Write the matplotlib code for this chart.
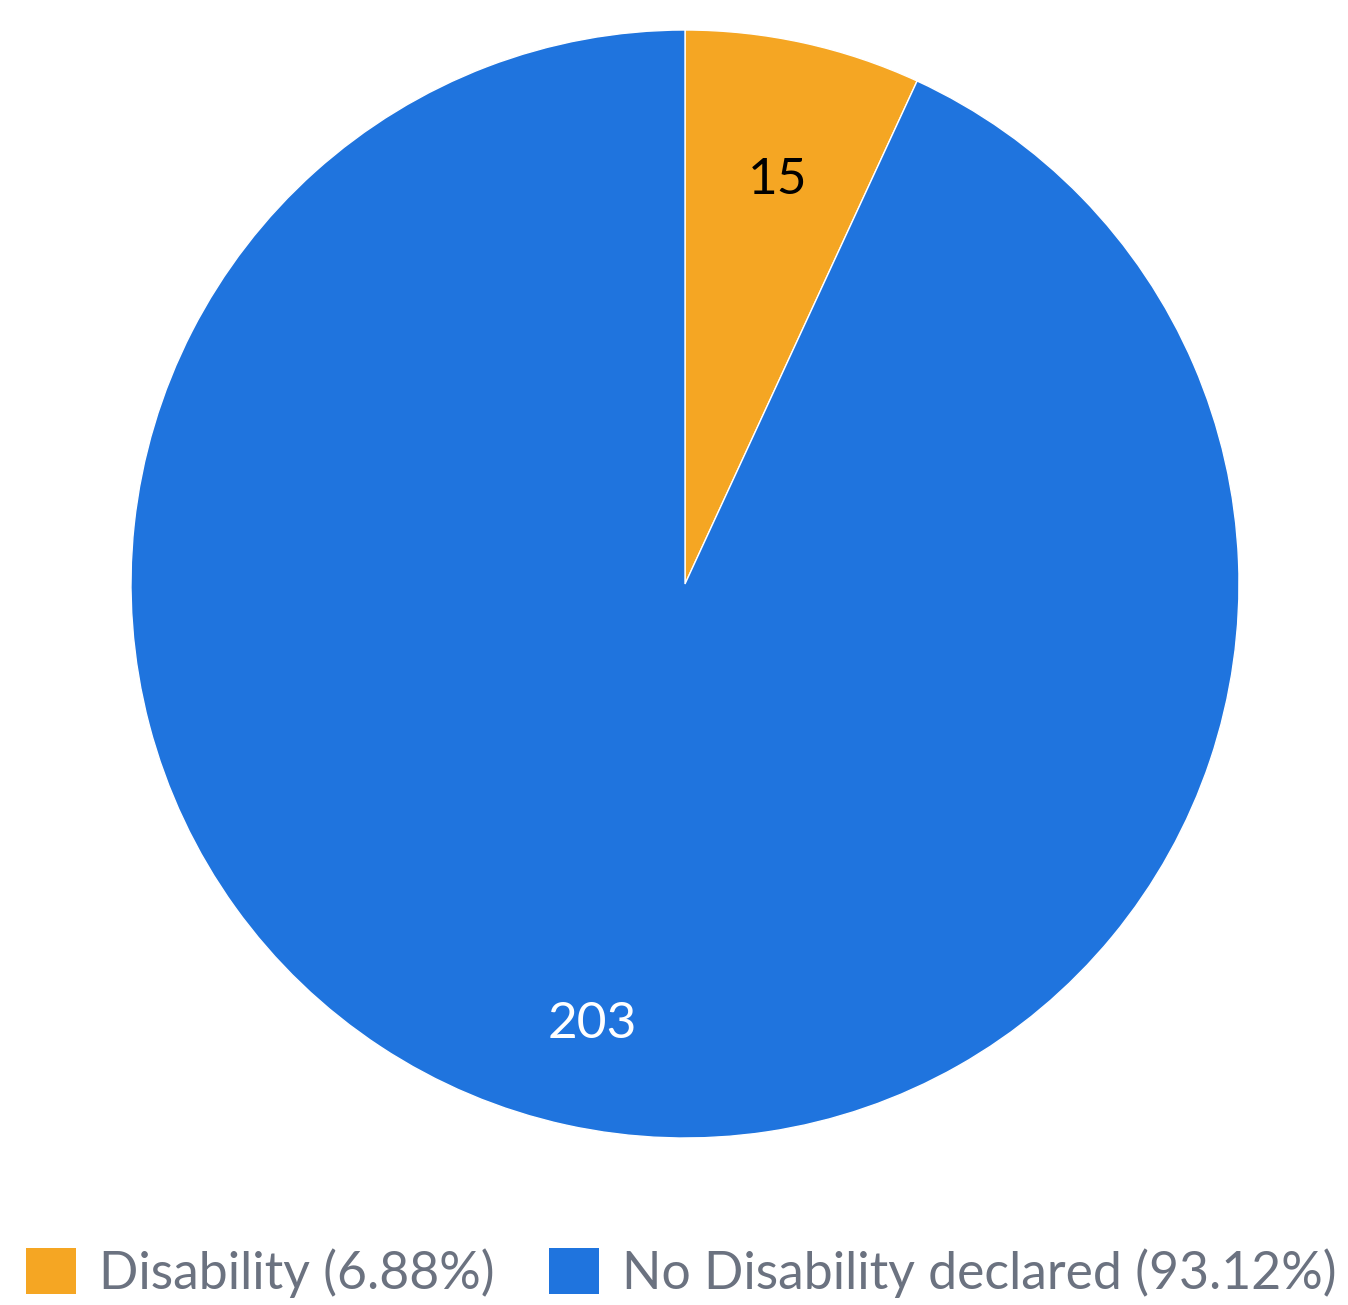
import matplotlib.pyplot as plt
import matplotlib.transforms as mtransforms
from matplotlib.patches import Patch

plt.rcParams['font.family'] = ['Lato', 'DejaVu Sans']

# data
categories = ["Disability", "No Disability declared"]
counts = [15, 203]
colors = ["#F5A623", "#1F74DE"]
label_colors = ["black", "white"]

W, H = 1348, 1305
fig = plt.figure(figsize=(W / 100, H / 100), dpi=100)
cx, cy, r = 685, 584, 554
ax = fig.add_axes([(cx - r) / W, (H - cy - r) / H, 2 * r / W, 2 * r / H])

total = sum(counts)
wedges, texts = ax.pie(counts, colors=colors, startangle=90, counterclock=False,
                       labels=[str(c) for c in counts], labeldistance=0.78,
                       wedgeprops=dict(edgecolor="white", linewidth=1))
shift = mtransforms.ScaledTranslation(0, -18 / 100, fig.dpi_scale_trans)
for t, c in zip(texts, label_colors):
    t.set_color(c)
    t.set_fontsize(37)
    t.set_ha("center")
    t.set_va("center")
    t.set_transform(t.get_transform() + shift)
ax.set_xlim(-1, 1)
ax.set_ylim(-1, 1)
ax.set_aspect("equal")

handles = [Patch(facecolor=c, edgecolor="none") for c in colors]
labels = [f"{n} ({v / total * 100:.2f}%)" for n, v in zip(categories, counts)]
leg = fig.legend(handles, labels, loc="center", bbox_to_anchor=(0.5 + 7.5 / W, 1 - 1273 / H),
                 ncol=2, frameon=False, fontsize=37.3, handlelength=0.97,
                 handleheight=0.97, handletextpad=0.44, columnspacing=1.05,
                 labelcolor="#6B7280")

fig.savefig("out.png", dpi=100, facecolor="white")
